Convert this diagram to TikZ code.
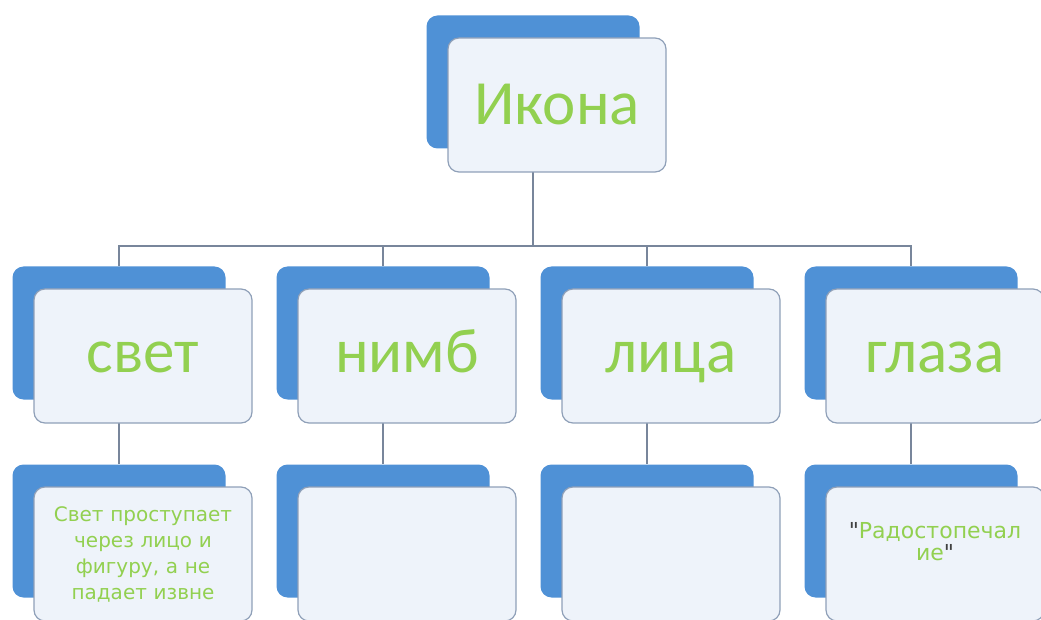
\documentclass[tikz,border=0pt]{standalone}
\usepackage{fontspec}
\setmainfont{Carlito}
\newfontfamily\smallfont{DejaVu Sans}
\usetikzlibrary{positioning,calc}
\definecolor{boxblue}{RGB}{79,145,214}
\definecolor{boxfill}{RGB}{238,243,250}
\definecolor{boxline}{RGB}{143,160,184}
\definecolor{textgreen}{RGB}{146,208,80}
\definecolor{linegray}{RGB}{120,134,155}
\tikzset{
  font={\fontsize{12pt}{14}\selectfont}}

\begin{document}
\begin{tikzpicture}[x=1pt,y=1pt,
    block_back/.style ={rectangle, rounded corners=11pt, draw=none, fill=boxblue,
      minimum width=213pt, minimum height=133pt},
    block_front/.style ={rectangle, rounded corners=11pt, draw=boxline, line width=1.2pt,
      fill=boxfill, text=textgreen, align=center, minimum width=218pt, minimum height=134pt},
    block_big/.style ={block_front, text height=44pt, text depth=4pt,
      font={\fontsize{63pt}{68}\selectfont}},
    block_mid/.style ={block_front, text height=40pt, text depth=6pt,
      font={\fontsize{63pt}{68}\selectfont}},
    block_small/.style ={block_front, text width=205pt,
      font={\smallfont\fontsize{20pt}{26}\selectfont}},
    paths2/.style={draw=linegray, line width=1.2pt}]
    \useasboundingbox (0,0) rectangle (1041,619);
    % blue boxes behind - row 1
    \node[block_back] (s0) at (533,537) {};
    % row 2
    \node[block_back] (s1) at (119,286) {};
    \node[block_back] (s2) at (383,286) {};
    \node[block_back] (s3) at (647,286) {};
    \node[block_back] (s4) at (911,286) {};
    % row 3
    \node[block_back] (s1-1) at (119,88) {};
    \node[block_back] (s2-1) at (383,88) {};
    \node[block_back] (s3-1) at (647,88) {};
    \node[block_back] (s4-1) at (911,88) {};
    % connecting the boxes
    \coordinate (j0) at (533,373);
    \begin{scope}[every path/.style=paths2]
      \path (s0.south)--(j0);
      \path (j0)-|(s1.north);
      \path (j0)-|(s2.north);
      \path (j0)-|(s3.north);
      \path (j0)-|(s4.north);
      \path (s1.south)--(s1-1.north);
      \path (s2.south)--(s2-1.north);
      \path (s3.south)--(s3-1.north);
      \path (s4.south)--(s4-1.north);
    \end{scope}
    % front boxes - row 1
    \node[block_big] (b0) at ($(s0)+(24,-23)$) {Икона};
    % row 2
    \node[block_mid] (b1) at ($(s1)+(24,-23)$) {свет};
    \node[block_mid] (b2) at ($(s2)+(24,-23)$) {нимб};
    \node[block_mid] (b3) at ($(s3)+(24,-23)$) {лица};
    \node[block_mid] (b4) at ($(s4)+(24,-23)$) {глаза};
    % row 3
    \node[block_small] (b1-1) at ($(s1-1)+(24,-23)$) {Свет проступает\\через лицо и\\фигуру, а не\\падает извне};
    \node[block_small] (b2-1) at ($(s2-1)+(24,-23)$) {};
    \node[block_small] (b3-1) at ($(s3-1)+(24,-23)$) {};
    \node[block_small, font={\smallfont\fontsize{22pt}{22}\selectfont}, text depth=48pt] (b4-1) at ($(s4-1)+(24,-23)$)
      {{\color{darkgray}\char34}Радостопечал\\ие{\color{darkgray}\char34}};
\end{tikzpicture}
\end{document}
